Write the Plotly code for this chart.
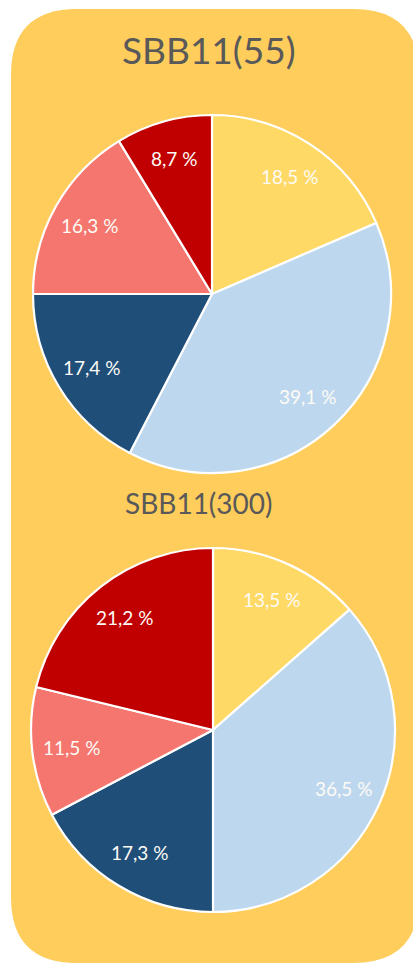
import math
import plotly.graph_objects as go

W, H = 413, 967

# Segment order, clockwise from 12 o'clock
categories = ["A", "B", "C", "D", "E"]
colors = ["#FFD966", "#BDD7EE", "#1F4E79", "#F4766E", "#C00000"]

title_55 = "SBB11(55)"
values_55 = [18.5, 39.1, 17.4, 16.3, 8.7]

title_300 = "SBB11(300)"
values_300 = [13.5, 36.5, 17.3, 11.5, 21.2]

# pie layout in pixels: (centre x, centre y, radius)
pies = [
    (title_55, values_55, (212, 294, 179)),
    (title_300, values_300, (213, 730, 182)),
]


def px_x(x):
    return x / W


def px_y(y):
    return 1 - y / H


def fmt(v):
    return f"{v:.1f}".replace(".", ",") + " %"


fig = go.Figure()
annotations = []

for name, vals, (cx, cy, r) in pies:
    fig.add_trace(go.Pie(
        labels=categories,
        values=vals,
        sort=False,
        direction="clockwise",
        rotation=0,
        marker=dict(colors=colors, line=dict(color="white", width=2.2)),
        textinfo="none",
        hoverinfo="label+percent",
        showlegend=False,
        domain=dict(x=[px_x(cx - r), px_x(cx + r)],
                    y=[px_y(cy + r), px_y(cy - r)]),
        name=name,
    ))
    # value labels placed on each slice's mid-angle
    total = sum(vals)
    cum = 0.0
    for v in vals:
        mid = (cum + v / 2) / total * 2 * math.pi
        cum += v
        rr = 0.785 * r
        lx = cx + rr * math.sin(mid)
        ly = cy - rr * math.cos(mid)
        annotations.append(dict(
            x=px_x(lx), y=px_y(ly), xref="paper", yref="paper",
            text=fmt(v), showarrow=False,
            font=dict(family="Lato", size=19, color="#FDFBF5"),
            xanchor="center", yanchor="middle",
        ))

# chart titles
annotations.append(dict(
    x=px_x(209), y=px_y(50), xref="paper", yref="paper", text=title_55,
    showarrow=False, font=dict(family="Lato", size=37, color="#595959"),
    xanchor="center", yanchor="middle",
))
annotations.append(dict(
    x=px_x(199), y=px_y(503), xref="paper", yref="paper", text=title_300,
    showarrow=False, font=dict(family="Lato", size=28, color="#595959"),
    xanchor="center", yanchor="middle",
))

# rounded yellow panel behind both pies
x0, y0, x1, y1, rad = 11, 9, 419, 963, 66


def rounded_path(x0, y0, x1, y1, rad):
    X = lambda v: px_x(v)
    Y = lambda v: px_y(v)
    return (
        f"M {X(x0 + rad)},{Y(y0)} L {X(x1 - rad)},{Y(y0)} "
        f"Q {X(x1)},{Y(y0)} {X(x1)},{Y(y0 + rad)} "
        f"L {X(x1)},{Y(y1 - rad)} Q {X(x1)},{Y(y1)} {X(x1 - rad)},{Y(y1)} "
        f"L {X(x0 + rad)},{Y(y1)} Q {X(x0)},{Y(y1)} {X(x0)},{Y(y1 - rad)} "
        f"L {X(x0)},{Y(y0 + rad)} Q {X(x0)},{Y(y0)} {X(x0 + rad)},{Y(y0)} Z"
    )


fig.update_layout(
    width=W, height=H,
    margin=dict(l=0, r=0, t=0, b=0),
    paper_bgcolor="white",
    plot_bgcolor="white",
    annotations=annotations,
    shapes=[dict(type="path", xref="paper", yref="paper",
                 path=rounded_path(x0, y0, x1, y1, rad),
                 fillcolor="#FECD5B", line=dict(width=0), layer="below")],
)

fig.write_html("out.html")
